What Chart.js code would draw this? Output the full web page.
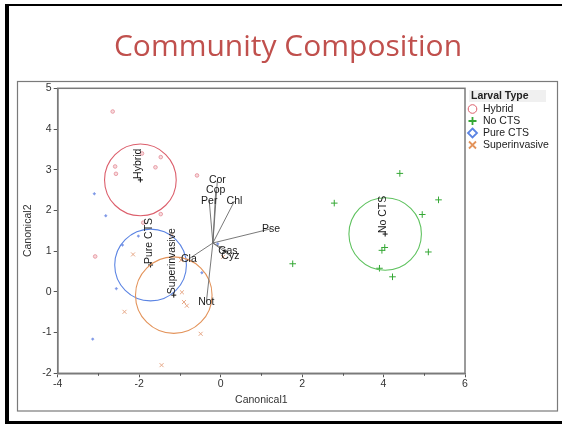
<!DOCTYPE html>
<html><head><meta charset="utf-8">
<script src="https://cdn.jsdelivr.net/npm/chart.js@4.4.1/dist/chart.umd.min.js"></script>
<style>html,body{margin:0;padding:0;background:#fff;}canvas{display:block;}</style>
</head><body>
<div style="width:562px;height:424px;"><canvas id="c" width="562" height="424"></canvas></div>
<script>
// ---- data ----
const chartTitle = 'Community Composition';
const xAxisTitle = 'Canonical1';
const yAxisTitle = 'Canonical2';
const legendTitle = 'Larval Type';
const groupNames = ['Hybrid', 'No CTS', 'Pure CTS', 'Superinvasive'];

const hybridX = [-2.65, -1.93, -1.47, -2.59, -1.60, -2.57, -0.58, -1.47, -1.90, -3.08];
const hybridY = [4.43, 3.40, 3.31, 3.08, 3.06, 2.90, 2.86, 1.91, 1.70, 0.87];
const noCtsX = [4.40, 2.79, 5.35, 4.95, 1.77, 4.03, 3.96, 5.10, 3.90, 4.22];
const noCtsY = [2.91, 2.18, 2.26, 1.90, 0.69, 1.09, 1.02, 0.98, 0.58, 0.37];
const pureCtsX = [-3.10, -2.82, -2.02, -2.41, -2.56, -3.14, -0.46, -0.07];
const pureCtsY = [2.41, 1.87, 1.37, 1.15, 0.08, -1.16, 0.47, 1.18];
const superX = [-2.15, -2.36, -0.95, -0.90, -0.83, -0.49, -1.45, -1.21, 0.06, -0.97];
const superY = [0.92, -0.49, -0.01, -0.25, -0.34, -1.03, -1.80, 1.39, 0.86, 0.78];

// group centroids (order: Hybrid, No CTS, Pure CTS, Superinvasive) and confidence-circle radii (Canonical units)
const centroidX = [-1.97, 4.04, -1.72, -1.15];
const centroidY = [2.75, 1.42, 0.66, -0.08];
const circleRadius = [0.88, 0.89, 0.88, 0.94];

// biplot rays
const rayOriginX = -0.19, rayOriginY = 1.20;
const rayNames = ['Cor', 'Cop', 'Per', 'Chl', 'Pse', 'Gas', 'Cyz', 'Cla', 'Not'];
const rayEndX = [-0.08, -0.12, -0.28, 0.34, 1.24, 0.18, 0.24, -0.78, -0.35];
const rayEndY = [2.74, 2.49, 2.24, 2.23, 1.55, 1.00, 0.88, 0.81, -0.25];

const xTicks = [-4, -2, 0, 2, 4, 6];
const xMinorTicks = [-3, -1, 1, 3, 5];
const yTicks = [-2, -1, 0, 1, 2, 3, 4, 5];

// ---- styles ----
const lineColors = ['#dc5f6c', '#5fc25f', '#5b84e3', '#e3935a'];
const pointColors = ['#e7959f', '#35a835', '#7d97e6', '#e7a887'];
const FONT = '"Liberation Sans", Arial, sans-serif';

const toPts = (xs, ys) => xs.map((x, i) => ({x: x, y: ys[i]}));

const decor = {
  id: 'decor',
  beforeDraw(chart) {
    const ctx = chart.ctx;
    ctx.save();
    ctx.fillStyle = '#fff';
    ctx.fillRect(0, 0, chart.width, chart.height);
    // slide border
    ctx.fillStyle = '#000';
    ctx.fillRect(5, 4, 557, 2);
    ctx.fillRect(5, 4, 4, 420);
    ctx.fillRect(5, 421, 557, 3);
    // inner frame
    ctx.strokeStyle = '#7a7a7a';
    ctx.lineWidth = 1.2;
    ctx.strokeRect(17.5, 81.5, 540, 329.5);
    // title
    ctx.fillStyle = '#c0504d';
    ctx.font = '30px "Open Sans", sans-serif';
    ctx.textAlign = 'center';
    ctx.textBaseline = 'alphabetic';
    ctx.fillText(chartTitle, 288, 56);
    ctx.restore();
  },
  afterDatasetsDraw(chart) {
    const ctx = chart.ctx, xs = chart.scales.x, ys = chart.scales.y, a = chart.chartArea;
    ctx.save();
    // plot frame
    ctx.strokeStyle = '#7a7a7a';
    ctx.lineWidth = 1.5;
    ctx.strokeRect(a.left, a.top, a.right - a.left, a.bottom - a.top);
    // minor x ticks
    ctx.strokeStyle = '#555';
    ctx.lineWidth = 1;
    xMinorTicks.forEach(v => {
      const px = Math.round(xs.getPixelForValue(v)) + 0.5;
      ctx.beginPath(); ctx.moveTo(px, a.bottom); ctx.lineTo(px, a.bottom + 2.5); ctx.stroke();
    });
    // rays
    const ox = xs.getPixelForValue(rayOriginX), oy = ys.getPixelForValue(rayOriginY);
    ctx.strokeStyle = '#6a6a6a';
    ctx.lineWidth = 0.9;
    rayNames.forEach((n, i) => {
      ctx.beginPath(); ctx.moveTo(ox, oy);
      ctx.lineTo(xs.getPixelForValue(rayEndX[i]), ys.getPixelForValue(rayEndY[i]));
      ctx.stroke();
    });
    ctx.fillStyle = '#1a1a1a';
    ctx.font = '10.5px ' + FONT;
    ctx.textAlign = 'center';
    ctx.textBaseline = 'middle';
    rayNames.forEach((n, i) => {
      ctx.fillText(n, xs.getPixelForValue(rayEndX[i]), ys.getPixelForValue(rayEndY[i]));
    });
    // centroid labels, rotated
    ctx.textAlign = 'left';
    ctx.textBaseline = 'alphabetic';
    groupNames.forEach((n, i) => {
      const px = xs.getPixelForValue(centroidX[i]), py = ys.getPixelForValue(centroidY[i]);
      ctx.save();
      ctx.translate(px + 1, py - 1);
      ctx.rotate(-Math.PI / 2);
      ctx.fillText(n, 0, 0);
      ctx.restore();
    });
    // legend
    ctx.fillStyle = '#f0f0f0';
    ctx.fillRect(469, 90, 77, 12);
    ctx.fillStyle = '#222';
    ctx.font = 'bold 10.5px ' + FONT;
    ctx.textBaseline = 'middle';
    ctx.fillText(legendTitle, 471, 96.5);
    ctx.font = '10.5px ' + FONT;
    const rowY = [109, 121, 133, 145];
    groupNames.forEach((n, i) => {
      const y = rowY[i], x = 472.5;
      ctx.strokeStyle = lineColors[i];
      ctx.lineWidth = i === 0 ? 1 : 1.8;
      ctx.beginPath();
      if (i === 0) { ctx.arc(x, y, 4.3, 0, Math.PI * 2); }
      else if (i === 1) { ctx.strokeStyle = '#35a835'; ctx.moveTo(x - 4, y); ctx.lineTo(x + 4, y); ctx.moveTo(x, y - 4); ctx.lineTo(x, y + 4); }
      else if (i === 2) { ctx.moveTo(x, y - 4.5); ctx.lineTo(x + 4.5, y); ctx.lineTo(x, y + 4.5); ctx.lineTo(x - 4.5, y); ctx.closePath(); }
      else { ctx.moveTo(x - 3.5, y - 3.5); ctx.lineTo(x + 3.5, y + 3.5); ctx.moveTo(x + 3.5, y - 3.5); ctx.lineTo(x - 3.5, y + 3.5); }
      ctx.stroke();
      ctx.fillStyle = '#222';
      ctx.fillText(n, 483, y + 0.5);
    });
    ctx.restore();
  }
};

new Chart(document.getElementById('c'), {
  type: 'scatter',
  data: {
    datasets: [
      { label: 'circles', data: toPts(centroidX, centroidY), pointStyle: 'circle', backgroundColor: 'rgba(0,0,0,0)',
        borderColor: lineColors, borderWidth: 1.1,
        pointRadius: ctx => { const s = ctx.chart.scales.x; return Math.abs(s.getPixelForValue(circleRadius[ctx.dataIndex]) - s.getPixelForValue(0)); } },
      { label: groupNames[0], data: toPts(hybridX, hybridY), pointStyle: 'circle', pointRadius: 1.8,
        borderColor: pointColors[0], backgroundColor: 'rgba(231,149,159,0.35)', borderWidth: 0.9 },
      { label: groupNames[1], data: toPts(noCtsX, noCtsY), pointStyle: 'cross', pointRadius: 3.3,
        borderColor: pointColors[1], borderWidth: 1 },
      { label: groupNames[2], data: toPts(pureCtsX, pureCtsY), pointStyle: 'rectRot', pointRadius: 1.4,
        borderColor: pointColors[2], backgroundColor: pointColors[2], borderWidth: 0.5 },
      { label: groupNames[3], data: toPts(superX, superY), pointStyle: 'crossRot', pointRadius: 2.8,
        borderColor: pointColors[3], borderWidth: 1 },
      { label: 'centroids', data: toPts(centroidX, centroidY), pointStyle: 'cross', pointRadius: 2.5,
        borderColor: '#111', borderWidth: 1 }
    ]
  },
  options: {
    responsive: false,
    animation: false,
    events: [],
    layout: { autoPadding: false, padding: { left: 17, top: 88.3, right: 97, bottom: 13 } },
    plugins: { legend: { display: false }, tooltip: { enabled: false }, title: { display: false } },
    scales: {
      x: {
        type: 'linear', min: -4, max: 6,
        afterBuildTicks: s => { s.ticks = xTicks.map(v => ({value: v})); },
        afterFit: s => { s.height = 37.7; },
        ticks: { color: '#333', font: { family: FONT, size: 10.5 }, padding: 1, maxRotation: 0 },
        grid: { drawOnChartArea: false, drawTicks: true, tickLength: 4, color: '#555' },
        border: { display: true, color: '#7a7a7a', width: 1.5 },
        title: { display: true, text: xAxisTitle, color: '#333', font: { family: FONT, size: 10.5 }, padding: { top: 4, bottom: 5 } }
      },
      y: {
        type: 'linear', min: -2, max: 5,
        afterBuildTicks: s => { s.ticks = yTicks.map(v => ({value: v})); },
        afterFit: s => { s.width = 40.7; },
        ticks: { color: '#333', font: { family: FONT, size: 10.5 }, padding: 2 },
        grid: { drawOnChartArea: false, drawTicks: true, tickLength: 4, color: '#555' },
        border: { display: true, color: '#7a7a7a', width: 1.5 },
        title: { display: true, text: yAxisTitle, color: '#333', font: { family: FONT, size: 10.5 }, padding: { top: 5, bottom: 2 } }
      }
    }
  },
  plugins: [decor]
});
</script>
</body></html>
